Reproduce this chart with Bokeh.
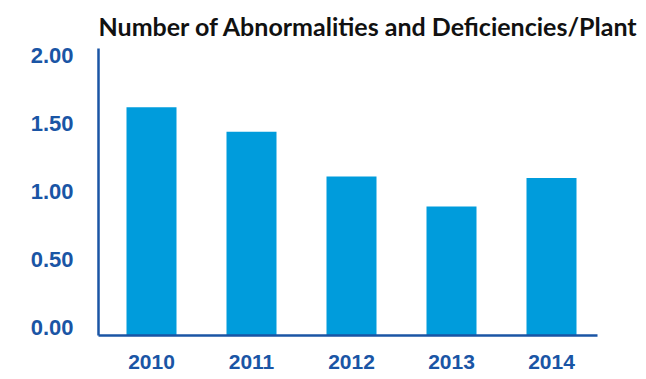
from bokeh.plotting import figure
from bokeh.models import Range1d, FixedTicker, NumeralTickFormatter, ColumnDataSource
from bokeh.embed import file_html
from bokeh.resources import INLINE

years = [2010, 2011, 2012, 2013, 2014]
values = [1.62, 1.44, 1.11, 0.89, 1.10]
y_ticks = [0.0, 0.5, 1.0, 1.5, 2.0]
title_text = "Number of Abnormalities and Deficiencies/Plant"

BAR = "#009CDC"
BLUE = "#1A55A5"

y_start = -0.058
y_end = 2.051

p = figure(width=642, height=371, output_backend="svg", toolbar_location=None,
           x_range=Range1d(2009.47, 2014.46), y_range=Range1d(y_start, y_end),
           min_border_left=98, min_border_right=45, min_border_top=48, min_border_bottom=32)

src = ColumnDataSource(dict(x=years, top=values))
p.vbar(x="x", top="top", bottom=y_start, width=0.5, source=src, fill_color=BAR, line_color=None)

p.title.text = title_text
p.title.text_font = "Lato"
p.title.text_font_style = "bold"
p.title.text_font_size = "25px"
p.title.text_color = "#111111"
p.title.align = "left"
p.title.offset = 0
p.title.standoff = 15

p.outline_line_color = None
p.xgrid.visible = False
p.ygrid.visible = False

for ax in (p.xaxis[0], p.yaxis[0]):
    ax.axis_line_color = BLUE
    ax.axis_line_width = 2.5
    ax.major_tick_line_color = None
    ax.minor_tick_line_color = None
    ax.major_tick_out = 0
    ax.major_tick_in = 0
    ax.major_label_text_font = "Liberation Sans"
    ax.major_label_text_font_style = "bold"
    ax.major_label_text_font_size = "21px"
    ax.major_label_text_color = BLUE

p.yaxis[0].major_label_text_font_size = "22px"
p.xaxis[0].ticker = FixedTicker(ticks=years)
p.xaxis[0].major_label_standoff = 19
p.yaxis[0].ticker = FixedTicker(ticks=y_ticks)
p.yaxis[0].formatter = NumeralTickFormatter(format="0.00")
p.yaxis[0].major_label_standoff = 25

open("out.html", "w").write(file_html(p, INLINE))
